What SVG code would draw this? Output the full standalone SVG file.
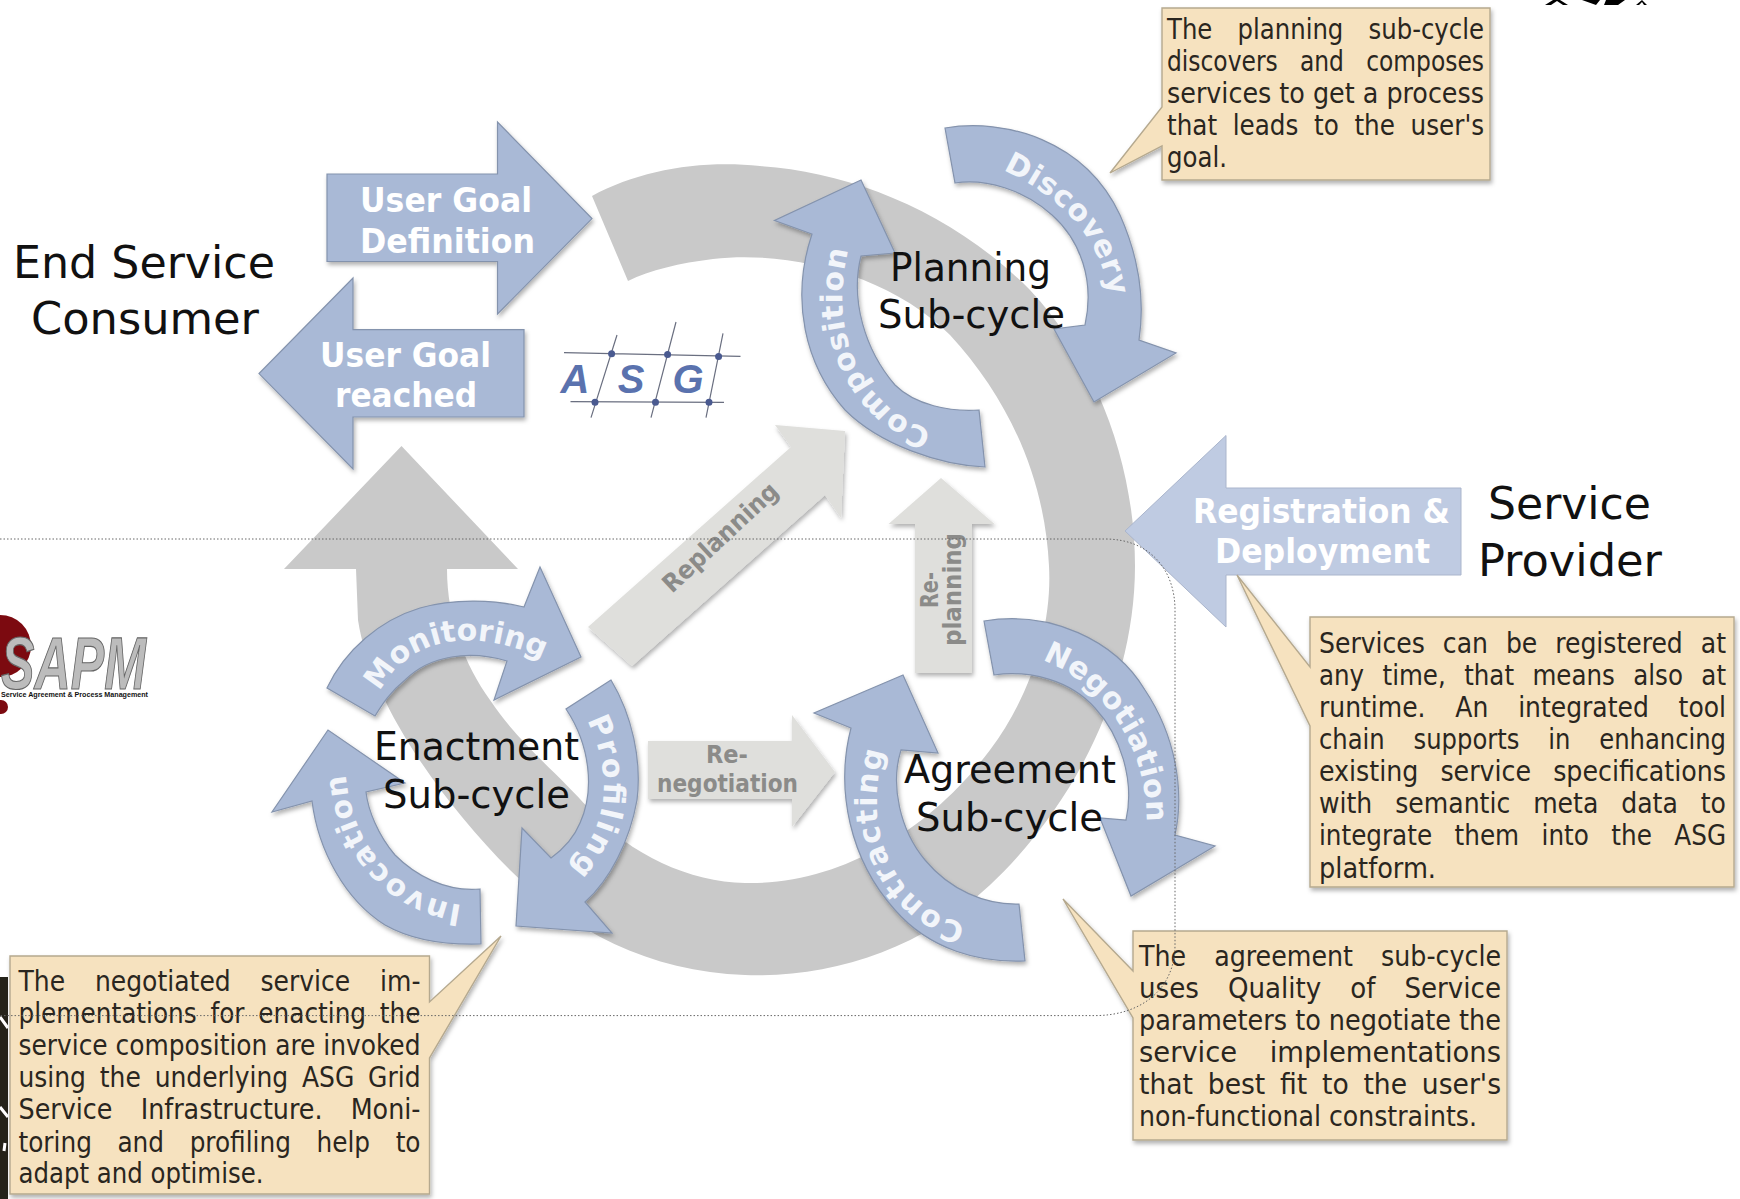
<svg xmlns="http://www.w3.org/2000/svg" width="1740" height="1199" viewBox="0 0 1740 1199">
<style>
text{font-family:"DejaVu Sans Condensed","DejaVu Sans",sans-serif}
.blue{fill:#a9b9d6;stroke:#8493ad;stroke-width:1.2;filter:url(#sh)}
.pale{fill:#bfcbe2;stroke:#aab5cc;stroke-width:1}
.cyc{fill:#c9c9c9}
.lg{fill:#dfdfdc;filter:url(#sh)}
.note{fill:#f6e2bf;stroke:#b5a98f;stroke-width:1.4;filter:url(#sh)}
.nt{font-size:28px;fill:#2a2620}
.big{font-size:44px;fill:#111}
.mid{font-size:39px;fill:#111}
.wb{font-size:34px;font-weight:bold;fill:#fff}
.arc{font-size:30px;font-weight:bold;fill:#f2f5fa;font-family:"DejaVu Sans",sans-serif}
.gt{font-size:25px;font-weight:bold;fill:#8b8b89}
.dot{fill:none;stroke:#666;stroke-width:1;stroke-dasharray:1.5 2}
.lf{font-family:"Liberation Sans",sans-serif}
</style>
<defs>
<filter id="sh" x="-10%" y="-10%" width="125%" height="125%"><feDropShadow dx="1.5" dy="3" stdDeviation="2" flood-color="#000" flood-opacity="0.3"/></filter>
<path id="pDisc" d="M1003,170 C1050,192 1108,232 1111,315"/>
<path id="pComp" d="M932,430 C870,412 822,340 851,240"/>
<path id="pMon" d="M380,692 C410,633 480,628 545,660"/>
<path id="pProf" d="M587,720 C612,770 614,830 558,880"/>
<path id="pInv" d="M462,905 C402,897 345,850 345,755"/>
<path id="pNeg" d="M1042,660 C1102,682 1152,750 1146,832"/>
<path id="pCon" d="M966,924 C895,907 852,825 892,730"/>
</defs>
<rect width="1740" height="1199" fill="#fff"/>

<g id="backdrop-fragments">
<rect x="0" y="977" width="8" height="222" fill="#25231a"/>
<path d="M0,1017 L8,1028 M0,1107 L8,1117 M5,1143 L4,1151" stroke="#fff" stroke-width="3" fill="none"/>
<path d="M1545,5 L1553,0 H1560 L1568,5 H1563 L1557,1 L1551,5 Z M1582,0 H1600 L1596,5 Z M1604,5 L1606,0 H1625 L1618,5 Z M1636,5 L1642,0 L1647,5 H1644 L1642,2 L1639,5 Z" fill="#000"/>
</g>

<g id="cycle"><path class="cyc" d="M592,196 C640,170 700,160 760,166 C850,172 950,210 1030,290 C1100,365 1135,470 1135,566 C1135,680 1080,800 990,885 C920,950 830,978 745,975 C650,972 570,930 510,870 C440,800 370,700 358,620 L356,569 H284 L401.5,446 L518,569 H447 C447,620 465,665 490,700 C520,745 555,770 590,810 C630,855 690,882 745,883 C840,885 930,830 990,750 C1035,690 1052,620 1049,566 C1045,480 1010,400 950,335 C890,275 790,250 713,259 C680,263 650,270 628,281 Z"/></g>

<g id="replanning"><polygon class="lg" points="588,627 791,447 775,425 845,431 841,518 825,495 632,666"/>
<text class="gt" transform="translate(672,594) rotate(-43)" textLength="148" lengthAdjust="spacingAndGlyphs">Replanning</text></g>
<g id="re-planning"><polygon class="lg" points="941,478 994.5,524 972,524 972,673 915,673 915,524 888.5,524"/>
<text class="gt" transform="translate(938,608) rotate(-90)" textLength="36" lengthAdjust="spacingAndGlyphs">Re-</text>
<text class="gt" transform="translate(961,646) rotate(-90)" textLength="113" lengthAdjust="spacingAndGlyphs">planning</text></g>
<g id="re-negotiation"><polygon class="lg" points="648,741 792,741 792,715 835,772 792,827 792,799 648,799"/>
<text class="gt" x="727" y="763" text-anchor="middle">Re-</text>
<text class="gt" x="657" y="792" textLength="141" lengthAdjust="spacingAndGlyphs">negotiation</text></g>

<g id="user-goal-definition"><polygon class="blue" points="327,174 497.5,174 497.5,122 592,218.6 497.5,314 497.5,261.5 327,261.5"/>
<text class="wb" x="360" y="212" textLength="172" lengthAdjust="spacingAndGlyphs">User Goal</text>
<text class="wb" x="360" y="253" textLength="175" lengthAdjust="spacingAndGlyphs">Definition</text></g>
<g id="user-goal-reached"><polygon class="blue" points="524,329.6 353,329.6 353,278 259,373.6 353,469 353,417 524,417"/>
<text class="wb" x="320" y="367" textLength="171" lengthAdjust="spacingAndGlyphs">User Goal</text>
<text class="wb" x="335" y="407" textLength="142" lengthAdjust="spacingAndGlyphs">reached</text></g>

<g id="asg-logo">
<path d="M564,352.6 L740.5,356.4 M570.5,401.6 L724,402.3 M617,335 L591,417.6 M676,322 L651,417.6 M723,333.4 L706,417.6" stroke="#6a6f80" stroke-width="1.2" fill="none"/>
<g fill="#4a5a90"><circle cx="611.6" cy="353.7" r="3.5"/><circle cx="667.6" cy="354.5" r="3.5"/><circle cx="718.6" cy="356.4" r="3.5"/><circle cx="595" cy="402.3" r="3.5"/><circle cx="655.5" cy="402.3" r="3.5"/><circle cx="709" cy="402.3" r="3.5"/></g>
<g font-size="40" font-weight="bold" font-style="italic" fill="#5a72ae" text-anchor="middle"><text x="575" y="393" class="lf">A</text><text x="631" y="393" class="lf">S</text><text x="688" y="393" class="lf">G</text></g>
</g>

<g id="sapm-logo">
<circle cx="0" cy="646" r="31" fill="#7c0a10"/><circle cx="1" cy="707" r="7" fill="#7c0a10"/>
<text x="1" y="689" font-size="74" font-weight="bold" font-style="italic" fill="#bcbcbc" stroke="#666" stroke-width="1.2" textLength="145" lengthAdjust="spacingAndGlyphs" class="lf">SAPM</text>
<circle cx="18" cy="650" r="4" fill="#7c0a10"/>
<text x="1" y="697" font-size="7" font-weight="bold" fill="#111" textLength="147" lengthAdjust="spacingAndGlyphs" class="lf">Service Agreement &amp; Process Management</text>
</g>

<g id="discovery"><path class="blue" d="M945,128 C1005,118 1085,140 1120,215 C1140,260 1145,300 1139,340 L1176,353 L1094,402 L1054,329 L1085,325 C1095,280 1080,240 1052,215 C1025,190 985,178 955,183 Z"/>
<text class="arc"><textPath href="#pDisc" textLength="172" lengthAdjust="spacing">Discovery</textPath></text></g>
<g id="composition"><path class="blue" d="M861,180 L895,253 L861,256 C850,300 865,350 895,385 C915,405 950,412 979,410 L985,467 C940,465 880,445 845,410 C805,365 790,300 812,234 L774.5,220.5 Z"/>
<text class="arc"><textPath href="#pComp" textLength="220" lengthAdjust="spacing">Composition</textPath></text></g>
<g id="monitoring"><path class="blue" d="M540,567 L581,657 L494,700 L507,661 C470,650 430,655 405,680 C390,692 382,705 375,716 L327,688 C345,650 380,620 420,608 C455,598 495,600 524,607 Z"/>
<text class="arc"><textPath href="#pMon" textLength="185" lengthAdjust="spacing">Monitoring</textPath></text></g>
<g id="profiling"><path class="blue" d="M611,680 L566,709 C590,745 595,790 580,823 C573,840 562,850 551,858 L522,828 L516,926 L612,933 L585,902 C610,880 630,840 637,800 C642,760 632,715 611,680 Z"/>
<text class="arc"><textPath href="#pProf" textLength="160" lengthAdjust="spacing">Profiling</textPath></text></g>
<g id="invocation"><path class="blue" d="M328,730 L272,812 L312,801 C318,850 345,900 385,925 C415,942 450,945 481,944 L480,889 C445,892 415,875 395,855 C378,835 368,810 366,792 L405,783 Z"/>
<text class="arc"><textPath href="#pInv" textLength="190" lengthAdjust="spacing">Invocation</textPath></text></g>
<g id="negotiation"><path class="blue" d="M984,621 C1050,610 1115,640 1145,690 C1175,735 1185,790 1175,835 L1215,846 L1131,896 L1100,818 L1126,820 C1135,780 1120,735 1095,708 C1070,680 1030,670 994,675 Z"/>
<text class="arc"><textPath href="#pNeg" textLength="205" lengthAdjust="spacing">Negotiation</textPath></text></g>
<g id="contracting"><path class="blue" d="M903,675 L814,713 L851,728 C835,790 850,860 895,910 C930,950 980,963 1025,961 L1019,904 C985,905 950,890 925,860 C900,830 890,785 901,750 L938,753 Z"/>
<text class="arc"><textPath href="#pCon" textLength="215" lengthAdjust="spacing">Contracting</textPath></text></g>

<g id="registration"><polygon class="pale" points="1461,488 1226,488 1226,435.5 1125,531 1226,627 1226,575 1461,575"/>
<text class="wb" x="1193" y="523" textLength="257" lengthAdjust="spacingAndGlyphs">Registration &amp;</text>
<text class="wb" x="1215" y="563" textLength="215" lengthAdjust="spacingAndGlyphs">Deployment</text></g>

<g id="labels">
<text class="big" x="13" y="278" textLength="262" lengthAdjust="spacingAndGlyphs">End Service</text>
<text class="big" x="31" y="334" textLength="228" lengthAdjust="spacingAndGlyphs">Consumer</text>
<text class="big" x="1488" y="519" textLength="163" lengthAdjust="spacingAndGlyphs">Service</text>
<text class="big" x="1478" y="576" textLength="184" lengthAdjust="spacingAndGlyphs">Provider</text>
<text class="mid" x="890" y="281" textLength="161" lengthAdjust="spacingAndGlyphs">Planning</text>
<text class="mid" x="878" y="328" textLength="187" lengthAdjust="spacingAndGlyphs">Sub-cycle</text>
<text class="mid" x="374" y="760" textLength="205" lengthAdjust="spacingAndGlyphs">Enactment</text>
<text class="mid" x="383" y="808" textLength="187" lengthAdjust="spacingAndGlyphs">Sub-cycle</text>
<text class="mid" x="904" y="783" textLength="212" lengthAdjust="spacingAndGlyphs">Agreement</text>
<text class="mid" x="916" y="831" textLength="187" lengthAdjust="spacingAndGlyphs">Sub-cycle</text>
</g>

<g id="note-planning"><path class="note" d="M1162,8 H1490 V180 H1162 V146 L1110,173 L1162,107 Z"/>
<g class="nt">
<text x="1167" y="39" word-spacing="18" textLength="317" lengthAdjust="spacingAndGlyphs">The planning sub-cycle</text>
<text x="1167" y="71" word-spacing="16" textLength="317" lengthAdjust="spacingAndGlyphs">discovers and composes</text>
<text x="1167" y="103" textLength="317" lengthAdjust="spacingAndGlyphs">services to get a process</text>
<text x="1167" y="135" word-spacing="8" textLength="317" lengthAdjust="spacingAndGlyphs">that leads to the user's</text>
<text x="1167" y="167" textLength="60" lengthAdjust="spacingAndGlyphs">goal.</text>
</g></g>

<g id="note-registration"><path class="note" d="M1310,617 H1734 V887 H1310 V726 L1237,575 L1310,667 Z"/>
<g class="nt">
<text x="1319" y="653" word-spacing="10" textLength="407" lengthAdjust="spacingAndGlyphs">Services can be registered at</text>
<text x="1319" y="685" word-spacing="11" textLength="407" lengthAdjust="spacingAndGlyphs">any time, that means also at</text>
<text x="1319" y="717" word-spacing="22" textLength="407" lengthAdjust="spacingAndGlyphs">runtime. An integrated tool</text>
<text x="1319" y="749" word-spacing="22" textLength="407" lengthAdjust="spacingAndGlyphs">chain supports in enhancing</text>
<text x="1319" y="781" word-spacing="14" textLength="407" lengthAdjust="spacingAndGlyphs">existing service specifications</text>
<text x="1319" y="813" word-spacing="15" textLength="407" lengthAdjust="spacingAndGlyphs">with semantic meta data to</text>
<text x="1319" y="845" word-spacing="15" textLength="407" lengthAdjust="spacingAndGlyphs">integrate them into the ASG</text>
<text x="1319" y="878" textLength="117" lengthAdjust="spacingAndGlyphs">platform.</text>
</g></g>

<g id="note-agreement"><path class="note" d="M1133,931 H1507 V1140 H1133 V1018 L1063,899 L1133,971 Z"/>
<g class="nt">
<text x="1139" y="966" word-spacing="20" textLength="362" lengthAdjust="spacingAndGlyphs">The agreement sub-cycle</text>
<text x="1139" y="998" word-spacing="20" textLength="362" lengthAdjust="spacingAndGlyphs">uses Quality of Service</text>
<text x="1139" y="1030" textLength="362" lengthAdjust="spacingAndGlyphs">parameters to negotiate the</text>
<text x="1139" y="1062" word-spacing="22" textLength="362" lengthAdjust="spacingAndGlyphs">service implementations</text>
<text x="1139" y="1094" word-spacing="6" textLength="362" lengthAdjust="spacingAndGlyphs">that best fit to the user's</text>
<text x="1139" y="1126" textLength="338" lengthAdjust="spacingAndGlyphs">non-functional constraints.</text>
</g></g>

<g id="note-enactment"><path class="note" d="M10,956 H429.5 V1002 L501,936 L429.5,1058 V1194 H10 Z"/>
<g class="nt">
<text x="18.5" y="991" word-spacing="22" textLength="402" lengthAdjust="spacingAndGlyphs">The negotiated service im-</text>
<text x="18.5" y="1023" word-spacing="6" textLength="402" lengthAdjust="spacingAndGlyphs">plementations for enacting the</text>
<text x="18.5" y="1055" textLength="402" lengthAdjust="spacingAndGlyphs">service composition are invoked</text>
<text x="18.5" y="1087" word-spacing="6" textLength="402" lengthAdjust="spacingAndGlyphs">using the underlying ASG Grid</text>
<text x="18.5" y="1119" word-spacing="20" textLength="402" lengthAdjust="spacingAndGlyphs">Service Infrastructure. Moni-</text>
<text x="18.5" y="1152" word-spacing="18" textLength="402" lengthAdjust="spacingAndGlyphs">toring and profiling help to</text>
<text x="18.5" y="1183" textLength="245" lengthAdjust="spacingAndGlyphs">adapt and optimise.</text>
</g></g>

<g id="connectors"><path class="dot" d="M0,539 H1105 C1150,539 1175,570 1175,610 V945 C1175,990 1140,1015.6 1095,1015.6 H0"/></g>
</svg>
